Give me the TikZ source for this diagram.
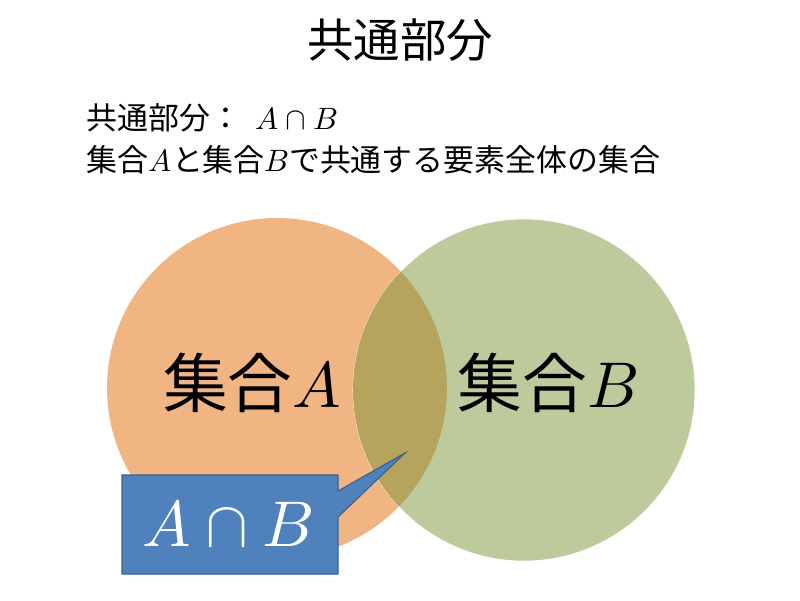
\documentclass[tikz,border=0pt]{standalone}
\usepackage{unicode-math}
\setmainfont{Noto Sans CJK JP}
\setmathfont{Latin Modern Math}
\begin{document}
\definecolor{setA}{HTML}{F1B584}
\definecolor{setB}{HTML}{BCCA9C}
\definecolor{setAB}{HTML}{B5A35E}
\definecolor{callout}{HTML}{4F81BD}
\definecolor{calloutline}{HTML}{3A6190}
\begin{tikzpicture}[x=0.025cm,y=-0.025cm,
    biglabel/.style={font=\fontsize{46}{50}\selectfont},
    textline/.style={anchor=west,font=\fontsize{22}{26}\selectfont}]
  \useasboundingbox (0,0) rectangle (800,600);

  % title and definition
  \node[font=\fontsize{33}{38}\selectfont] (title) at (400,40) {共通部分};
  \node[textline] (def) at (82,118) {共通部分：\ \ $A\cap B$};
  \node[textline] (desc) at (82,160) {集合$A$と集合$B$で共通する要素全体の集合};

  % sets
  \fill[setA] (277,388) circle (170);
  \draw[white, fill=setB] (524,390) circle (171);
  \begin{scope}
    \clip (277,388) circle (170);
    \fill[setAB] (524,390) circle (171);
  \end{scope}
  \node[biglabel] (labelA) at (252,383) {集合$A$};
  \node[biglabel] (labelB) at (548,383) {集合$B$};

  % callout
  \coordinate (tip) at (405,453);
  \draw[calloutline, fill=callout, line width=0.8pt]
    (122,475) -- (338,475) -- (338,491) -- (tip) -- (338,517)
    -- (338,574) -- (122,574) -- cycle;
  \node[biglabel, white] (cap) at (228,524) {$A\cap B$};
\end{tikzpicture}
\end{document}
